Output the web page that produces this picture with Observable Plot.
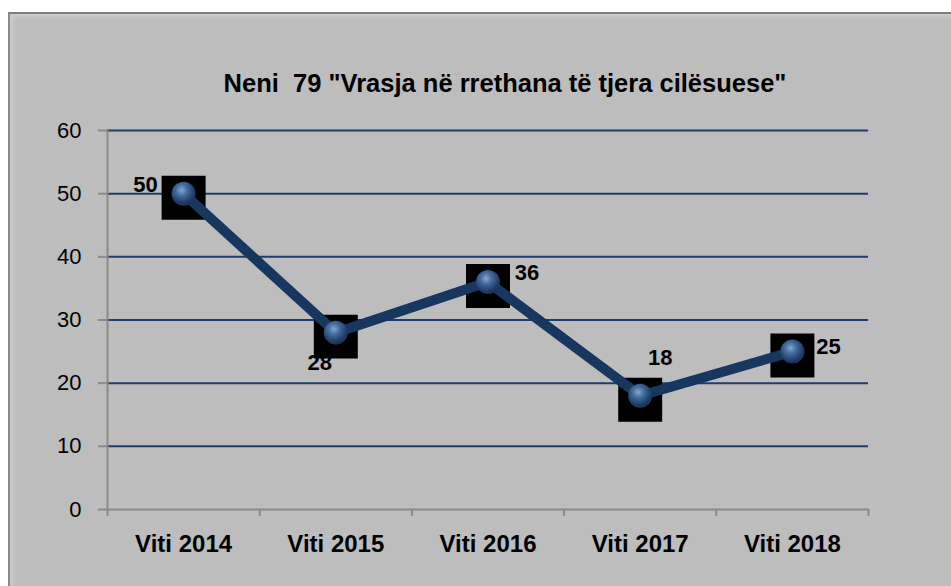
<!DOCTYPE html>
<html>
<head>
<meta charset="utf-8">
<script src="https://cdn.jsdelivr.net/npm/d3@7"></script>
<script src="https://cdn.jsdelivr.net/npm/@observablehq/plot@0.6"></script>
<style>
  html, body { margin: 0; padding: 0; background: #ffffff; }
  #wrap { position: relative; width: 951px; height: 586px; overflow: hidden; font-family: "Liberation Sans", Arial, sans-serif; }
  #bg { position: absolute; left: 8px; top: 12px; right: 0; bottom: 0; background: #bdbdbd; border-top: 2px solid #7f7f7f; border-left: 2px solid #8a8a8a; box-shadow: inset 3px 3px 4px rgba(255,255,255,0.25); }
  #title { position: absolute; left: 505px; top: 71px; transform: translateX(-50%); white-space: pre; font-weight: bold; font-size: 25.5px; line-height: 25px; color: #000; }
  #chart { position: absolute; left: 0; top: 0; }
  #chart svg { background: transparent !important; }
</style>
</head>
<body>
<div id="wrap">
  <div id="bg"></div>
  <div id="title"></div>
  <div id="chart"></div>
</div>
<script>
const titleText = 'Neni  79 "Vrasja në rrethana të tjera cilësuese"';
const categories = ["Viti 2014", "Viti 2015", "Viti 2016", "Viti 2017", "Viti 2018"];
const values = [50, 28, 36, 18, 25];
const yTicks = [0, 10, 20, 30, 40, 50, 60];

// label offsets (style: where each data label sits relative to its point, in px)
const labelOffsets = [[-38, -9], [-16, 30], [39, -9], [20, -38], [36, -5]];

document.getElementById("title").textContent = titleText;

const data = categories.map((c, i) => ({cat: c, pos: i + 0.5, v: values[i]}));
const boundaries = d3.range(categories.length + 1);

const gridColor = "#1f3d6b";
const axisGray = "#8a8a8a";

const chart = Plot.plot({
  width: 951,
  height: 586,
  marginLeft: 107,
  marginRight: 83,
  marginTop: 130,
  marginBottom: 77,
  style: {background: "transparent", fontFamily: "'Liberation Sans', Arial, sans-serif"},
  x: {type: "linear", domain: [0, categories.length], axis: null},
  y: {domain: [0, 60], axis: null},
  marks: [
    Plot.ruleY(yTicks.filter(t => t > 0), {stroke: gridColor, strokeWidth: 2}),
    Plot.axisY(yTicks, {label: null, tickSize: 9, tickPadding: 17, fontSize: 22, stroke: axisGray, strokeWidth: 2, fill: "#000", tickFormat: d => String(d)}),
    Plot.axisX(boundaries, {label: null, tickSize: 7, tickFormat: () => "", stroke: axisGray, strokeWidth: 2}),
    Plot.ruleX([0], {stroke: axisGray, strokeWidth: 2}),
    Plot.ruleY([0], {stroke: axisGray, strokeWidth: 2}),
    Plot.text(data, {x: "pos", y: 0, text: "cat", dy: 35, fontSize: 24, fontWeight: "bold", fill: "#000"}),
    Plot.dot(data, {x: "pos", y: "v", symbol: "square", r: 24.8, fill: "#000", stroke: "none", dy: 4}),
    Plot.line(data, {x: "pos", y: "v", stroke: "#17375e", strokeWidth: 10, strokeLinejoin: "round"}),
    Plot.dot(data, {x: "pos", y: "v", r: 12, fill: "url(#sphereGrad)", stroke: "none"}),
    ...data.map((d, i) => Plot.text([d], {x: "pos", y: "v", text: e => String(e.v), dx: labelOffsets[i][0], dy: labelOffsets[i][1], fontSize: 22, fontWeight: "bold", fill: "#000"}))
  ]
});

const defs = document.createElementNS("http://www.w3.org/2000/svg", "defs");
defs.innerHTML = `
  <radialGradient id="sphereGrad" cx="42%" cy="35%" r="65%">
    <stop offset="0%" stop-color="#86a6d2"/>
    <stop offset="35%" stop-color="#466d9f"/>
    <stop offset="80%" stop-color="#1f3d68"/>
    <stop offset="100%" stop-color="#17345a"/>
  </radialGradient>`;
chart.insertBefore(defs, chart.firstChild);

document.getElementById("chart").appendChild(chart);
</script>
</body>
</html>
